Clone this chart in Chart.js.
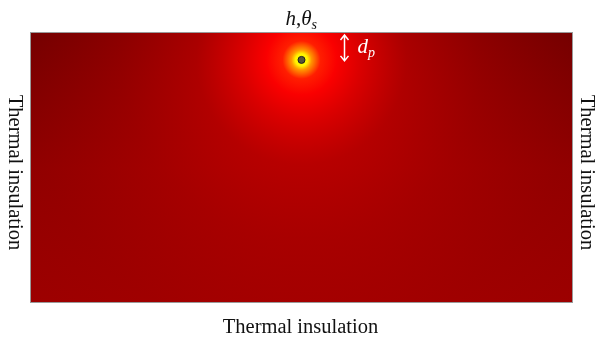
<!DOCTYPE html>
<html>
<head>
<meta charset="utf-8">
<script src="https://cdn.jsdelivr.net/npm/chart.js@4"></script>
<style>
  html, body { margin: 0; padding: 0; background: #fff; }
  #wrap { width: 598px; height: 338px; }
</style>
</head>
<body>
<div id="wrap"><canvas id="field" width="598" height="338"></canvas></div>
<script>
// domain of the section (width, depth) and the point source position
const domainX = [0, 2];
const domainY = [-1, 0];
const sourceX = [1.0];
const sourceY = [-0.1];
const sideLabel = "Thermal insulation";
const bottomLabel = "Thermal insulation";
const topLabel = ["h", ",", "\u03b8", "s"];
const depthLabel = ["d", "p"];

const serif = "'Liberation Serif', 'Times New Roman', serif";

// paints the temperature field behind the source marker
const fieldPlugin = {
  id: "field",
  beforeDatasetsDraw(chart) {
    const { ctx, chartArea: a, scales: { x, y } } = chart;
    const sx = x.getPixelForValue(sourceX[0]);
    const sy = y.getPixelForValue(sourceY[0]);
    ctx.save();
    ctx.beginPath();
    ctx.rect(a.left, a.top, a.width, a.height);
    ctx.clip();

    const base = ctx.createLinearGradient(0, a.top, 0, a.bottom);
    base.addColorStop(0, "#690000");
    base.addColorStop(0.5, "#8c0000");
    base.addColorStop(1, "#9c0000");
    ctx.fillStyle = base;
    ctx.fillRect(a.left, a.top, a.width, a.height);

    const R = a.width * 0.7;
    const g = ctx.createRadialGradient(sx, sy, 0, sx, sy, R);
    const stops = [
      [0, "rgba(255,255,0,1)"],
      [6, "rgba(255,245,0,1)"],
      [10, "rgba(255,150,0,1)"],
      [19, "rgba(255,30,0,1)"],
      [35, "rgba(250,0,0,1)"],
      [60, "rgba(235,0,0,0.85)"],
      [105, "rgba(215,0,0,0.58)"],
      [180, "rgba(205,0,0,0.35)"],
      [280, "rgba(190,0,0,0.12)"],
      [R, "rgba(180,0,0,0)"]
    ];
    stops.forEach(([r, c]) => g.addColorStop(Math.min(r / R, 1), c));
    ctx.fillStyle = g;
    ctx.fillRect(a.left, a.top, a.width, a.height);
    ctx.restore();

    ctx.save();
    ctx.strokeStyle = "#9a9a9a";
    ctx.lineWidth = 1;
    ctx.strokeRect(a.left - 0.5, a.top - 0.5, a.width + 1, a.height + 1);
    ctx.restore();
  },
  afterDraw(chart) {
    const { ctx, chartArea: a, scales: { x, y } } = chart;
    const sx = x.getPixelForValue(sourceX[0]);
    const top = y.getPixelForValue(0);
    const sy = y.getPixelForValue(sourceY[0]);
    ctx.save();

    // depth arrow
    const ax = sx + 43;
    ctx.strokeStyle = "#fff";
    ctx.lineWidth = 1.5;
    ctx.beginPath();
    ctx.moveTo(ax, top + 2); ctx.lineTo(ax, sy + 1);
    ctx.moveTo(ax - 4, top + 7); ctx.lineTo(ax, top + 2); ctx.lineTo(ax + 4, top + 7);
    ctx.moveTo(ax - 4, sy - 4); ctx.lineTo(ax, sy + 1); ctx.lineTo(ax + 4, sy - 4);
    ctx.stroke();

    // d_p
    ctx.fillStyle = "#fff";
    ctx.textBaseline = "alphabetic";
    ctx.textAlign = "left";
    ctx.font = "italic 21px " + serif;
    ctx.fillText(depthLabel[0], ax + 13, top + 20);
    let w = ctx.measureText(depthLabel[0]).width;
    ctx.font = "italic 14px " + serif;
    ctx.fillText(depthLabel[1], ax + 13 + w, top + 24);

    // h, theta_s
    ctx.fillStyle = "#111";
    let px = sx - 16;
    const by = 25;
    ctx.font = "italic 21px " + serif;
    ctx.fillText(topLabel[0], px, by); px += ctx.measureText(topLabel[0]).width;
    ctx.font = "21px " + serif;
    ctx.fillText(topLabel[1], px, by); px += ctx.measureText(topLabel[1]).width;
    ctx.font = "italic 21px " + serif;
    ctx.fillText(topLabel[2], px, by); px += ctx.measureText(topLabel[2]).width;
    ctx.font = "italic 14px " + serif;
    ctx.fillText(topLabel[3], px, by + 4);

    // insulation labels
    ctx.font = "20.5px " + serif;
    ctx.textAlign = "center";
    ctx.fillText(bottomLabel, (a.left + a.right) / 2 - 1, 333);
    const cy = (a.top + a.bottom) / 2 + 5;
    [9, 581].forEach(cx => {
      ctx.save();
      ctx.translate(cx, cy);
      ctx.rotate(Math.PI / 2);
      ctx.fillText(sideLabel, 0, 0);
      ctx.restore();
    });
    ctx.restore();
  }
};

new Chart(document.getElementById("field"), {
  type: "scatter",
  data: {
    datasets: [{
      data: sourceX.map((v, i) => ({ x: v, y: sourceY[i] })),
      pointRadius: 3.5,
      pointBackgroundColor: "#55553c",
      pointBorderColor: "#1e1e1e",
      pointBorderWidth: 1
    }]
  },
  options: {
    responsive: false,
    animation: false,
    events: [],
    layout: { padding: { left: 31, right: 26, top: 33, bottom: 36 } },
    plugins: { legend: { display: false }, tooltip: { enabled: false } },
    scales: {
      x: { type: "linear", min: domainX[0], max: domainX[1], display: false },
      y: { type: "linear", min: domainY[0], max: domainY[1], display: false }
    }
  },
  plugins: [fieldPlugin]
});
</script>
</body>
</html>
